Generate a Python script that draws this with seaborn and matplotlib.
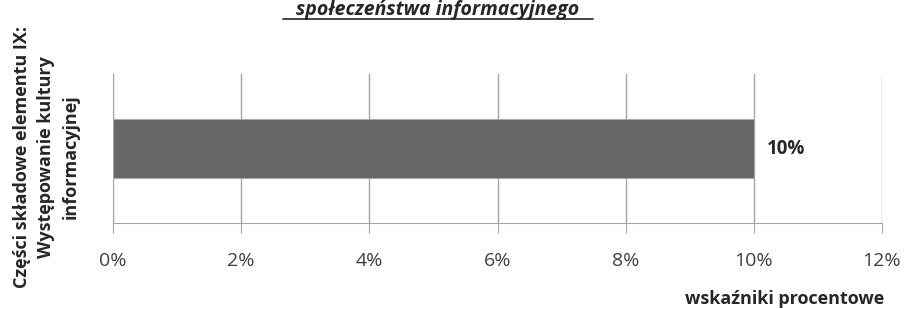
import matplotlib
matplotlib.use('Agg')
import matplotlib.pyplot as plt
import numpy as np
import pandas as pd
import seaborn as sns

sns.set_style('white')
plt.rcParams['font.family'] = ['Open Sans', 'DejaVu Sans']

# dane
kategorie = ['Występowanie kultury informacyjnej']
wartosci = [10]
ticki = [0, 2, 4, 6, 8, 10, 12]
tytul = 'społeczeństwa informacyjnego'
os_y = 'Części składowe elementu IX:\nWystępowanie kultury\ninformacyjnej'
os_x = 'wskaźniki procentowe'

df = pd.DataFrame({'kat': kategorie, 'val': wartosci})

fig = plt.figure(figsize=(9.06, 3.09), dpi=100)
ax = fig.add_axes([113/906, 1-223/309, 769/906, 149/309])

sns.barplot(data=df, x='val', y='kat', orient='h', color='#666666',
            width=0.4, edgecolor='#aaaaaa', linewidth=0.8, ax=ax, zorder=3)

ax.set_xlim(0, 12)
ax.set_xticks(ticki)
ax.set_xticklabels([f'{t}%' for t in ticki], fontsize=14, color='#404040')
ax.set_yticks([])
ax.grid(axis='x', color='#a6a6a6', linewidth=1, zorder=0)
for s in ['top', 'right']:
    ax.spines[s].set_visible(False)
for s in ['left', 'bottom']:
    ax.spines[s].set_color('#a6a6a6')
ax.tick_params(axis='x', length=7, color='#a6a6a6', pad=14, direction='out')
ax.xaxis.set_ticks_position('bottom')

for i, v in enumerate(wartosci):
    ax.text(v + 0.2, i, f'{v}%', va='center', ha='left',
            fontsize=13.5, fontweight='bold', color='#262626')

ax.set_xlabel('')
ax.set_ylabel('')
fig.text(884/906, 1-299/309, os_x, ha='right', va='center',
         fontsize=13, fontweight='bold', color='#262626')
fig.text(46/906, 1-157/309, os_y, rotation=90, ha='center', va='center',
         fontsize=13, fontweight='bold', color='#262626', multialignment='center',
         linespacing=1.45)
fig.text(438/906, 1-15/309, tytul, ha='center', va='baseline', fontsize=14,
         fontweight='bold', fontstyle='italic', color='#262626')
fig.add_artist(plt.Line2D([283/906, 593/906], [1-19/309, 1-19/309],
                          color='#262626', linewidth=1.2))

fig.savefig('out.png', dpi=100)
